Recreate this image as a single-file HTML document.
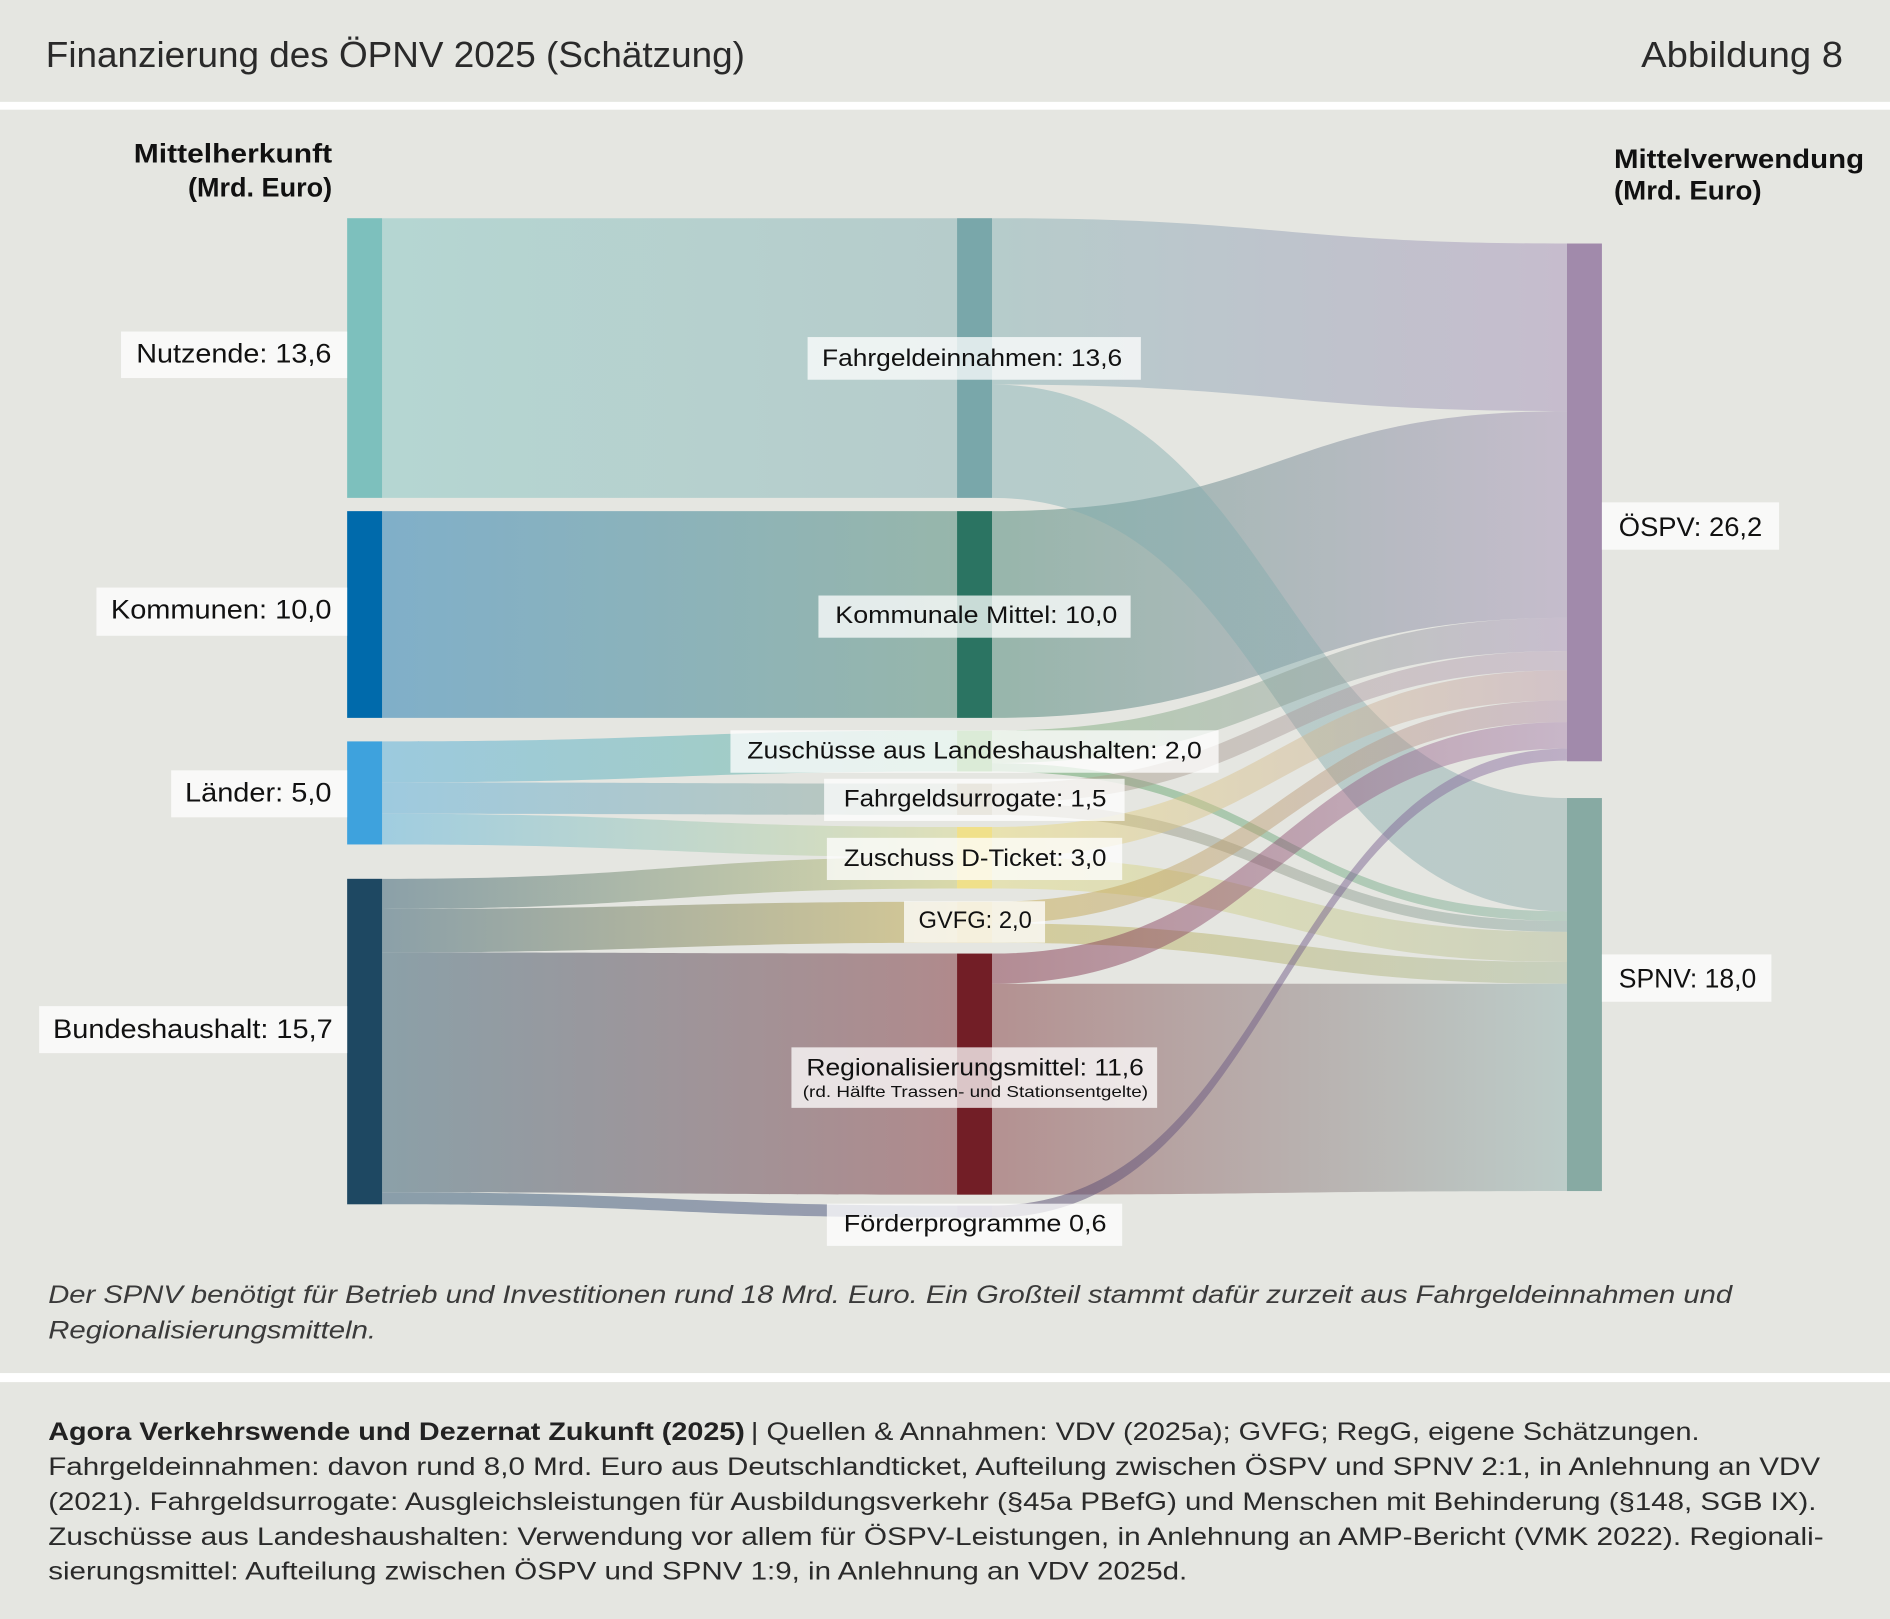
<!DOCTYPE html>
<html>
<head>
<meta charset="utf-8">
<style>
html,body{margin:0;padding:0;background:#e5e6e1;}
svg{display:block;}
.t{font-family:"Liberation Sans Narrow","Liberation Sans",sans-serif;}
.l{font-family:"Liberation Sans",sans-serif;fill:#111;}
</style>
</head>
<body>
<svg xmlns="http://www.w3.org/2000/svg" width="1890" height="1619" viewBox="0 0 1568 1343" preserveAspectRatio="none">
<defs>
  <!-- left flows (opaque) -->
  <linearGradient id="g1" gradientUnits="userSpaceOnUse" x1="317" y1="0" x2="794" y2="0"><stop offset="0" stop-color="#b5d6d2"/><stop offset="1" stop-color="#b6cccb"/></linearGradient>
  <linearGradient id="g2" gradientUnits="userSpaceOnUse" x1="317" y1="0" x2="794" y2="0"><stop offset="0" stop-color="#80afc9"/><stop offset="1" stop-color="#97b6ab"/></linearGradient>
  <linearGradient id="g3" gradientUnits="userSpaceOnUse" x1="317" y1="0" x2="794" y2="0"><stop offset="0" stop-color="#9ccade"/><stop offset="1" stop-color="#a5cdb9"/></linearGradient>
  <linearGradient id="g4" gradientUnits="userSpaceOnUse" x1="317" y1="0" x2="794" y2="0"><stop offset="0" stop-color="#9ecadf"/><stop offset="1" stop-color="#bec6b9"/></linearGradient>
  <linearGradient id="g5" gradientUnits="userSpaceOnUse" x1="317" y1="0" x2="794" y2="0"><stop offset="0" stop-color="#a0cde0"/><stop offset="1" stop-color="#dfe0b9"/></linearGradient>
  <linearGradient id="g6" gradientUnits="userSpaceOnUse" x1="317" y1="0" x2="794" y2="0"><stop offset="0" stop-color="#8ba0a8"/><stop offset="1" stop-color="#d9d9aa"/></linearGradient>
  <linearGradient id="g7" gradientUnits="userSpaceOnUse" x1="317" y1="0" x2="794" y2="0"><stop offset="0" stop-color="#8ba0a8"/><stop offset="1" stop-color="#d6c995"/></linearGradient>
  <linearGradient id="g8" gradientUnits="userSpaceOnUse" x1="317" y1="0" x2="794" y2="0"><stop offset="0" stop-color="#8ba0a8"/><stop offset="1" stop-color="#b08a8c"/></linearGradient>
  <linearGradient id="g9" gradientUnits="userSpaceOnUse" x1="317" y1="0" x2="794" y2="0"><stop offset="0" stop-color="#8a9eaa"/><stop offset="1" stop-color="#9a9cb0"/></linearGradient>
  <!-- right flows (alpha) -->
  <linearGradient id="ra" gradientUnits="userSpaceOnUse" x1="823" y1="0" x2="1300" y2="0"><stop offset="0" stop-color="#7cacb0"/><stop offset="1" stop-color="#a089b5"/></linearGradient>
  <linearGradient id="rb" gradientUnits="userSpaceOnUse" x1="823" y1="0" x2="1300" y2="0"><stop offset="0" stop-color="#7cacb0"/><stop offset="1" stop-color="#8aaaaa"/></linearGradient>
  <linearGradient id="rc" gradientUnits="userSpaceOnUse" x1="823" y1="0" x2="1300" y2="0"><stop offset="0" stop-color="#387b69"/><stop offset="1" stop-color="#9e89b2"/></linearGradient>
  <linearGradient id="rd" gradientUnits="userSpaceOnUse" x1="823" y1="0" x2="1300" y2="0"><stop offset="0" stop-color="#6fae6b"/><stop offset="1" stop-color="#a48db6"/></linearGradient>
  <linearGradient id="re" gradientUnits="userSpaceOnUse" x1="823" y1="0" x2="1300" y2="0"><stop offset="0" stop-color="#4c9a51"/><stop offset="1" stop-color="#83af9e"/></linearGradient>
  <linearGradient id="rf" gradientUnits="userSpaceOnUse" x1="823" y1="0" x2="1300" y2="0"><stop offset="0" stop-color="#a49b7c"/><stop offset="1" stop-color="#b098b5"/></linearGradient>
  <linearGradient id="rg" gradientUnits="userSpaceOnUse" x1="823" y1="0" x2="1300" y2="0"><stop offset="0" stop-color="#998d72"/><stop offset="1" stop-color="#83a39e"/></linearGradient>
  <linearGradient id="rh" gradientUnits="userSpaceOnUse" x1="823" y1="0" x2="1300" y2="0"><stop offset="0" stop-color="#ecdd72"/><stop offset="1" stop-color="#bb98a9"/></linearGradient>
  <linearGradient id="ri" gradientUnits="userSpaceOnUse" x1="823" y1="0" x2="1300" y2="0"><stop offset="0" stop-color="#e3db7d"/><stop offset="1" stop-color="#b0ba93"/></linearGradient>
  <linearGradient id="rj" gradientUnits="userSpaceOnUse" x1="823" y1="0" x2="1300" y2="0"><stop offset="0" stop-color="#c4a63a"/><stop offset="1" stop-color="#b08daa"/></linearGradient>
  <linearGradient id="rk" gradientUnits="userSpaceOnUse" x1="823" y1="0" x2="1300" y2="0"><stop offset="0" stop-color="#bfac45"/><stop offset="1" stop-color="#a4b593"/></linearGradient>
  <linearGradient id="rl" gradientUnits="userSpaceOnUse" x1="823" y1="0" x2="1300" y2="0"><stop offset="0" stop-color="#761e36"/><stop offset="1" stop-color="#a47caa"/></linearGradient>
  <linearGradient id="rm" gradientUnits="userSpaceOnUse" x1="823" y1="0" x2="1300" y2="0"><stop offset="0" stop-color="#78292f"/><stop offset="1" stop-color="#8aacaa"/></linearGradient>
  <linearGradient id="rn" gradientUnits="userSpaceOnUse" x1="823" y1="0" x2="1300" y2="0"><stop offset="0" stop-color="#4e4468"/><stop offset="1" stop-color="#9678aa"/></linearGradient>
</defs>

<!-- backgrounds -->
<rect x="0" y="0" width="1568" height="1343" fill="#e5e6e1"/>
<rect x="0" y="84.5" width="1568" height="6.5" fill="#ffffff"/>
<rect x="0" y="1139" width="1568" height="7.5" fill="#ffffff"/>

<!-- header -->
<text class="t" x="38" y="55.5" font-size="30" fill="#2a2a2a" textLength="580" lengthAdjust="spacingAndGlyphs">Finanzierung des ÖPNV 2025 (Schätzung)</text>
<text class="t" x="1361.5" y="55.5" font-size="30" fill="#2a2a2a" textLength="167.5" lengthAdjust="spacingAndGlyphs">Abbildung 8</text>

<text class="t" x="111" y="135" font-size="22" font-weight="bold" fill="#111" textLength="164.5" lengthAdjust="spacingAndGlyphs">Mittelherkunft</text>
<text class="t" x="156" y="163" font-size="22" font-weight="bold" fill="#111" textLength="119.5" lengthAdjust="spacingAndGlyphs">(Mrd. Euro)</text>
<text class="t" x="1339" y="139.5" font-size="22" font-weight="bold" fill="#111" textLength="207.5" lengthAdjust="spacingAndGlyphs">Mittelverwendung</text>
<text class="t" x="1339" y="165.4" font-size="22" font-weight="bold" fill="#111" textLength="122.5" lengthAdjust="spacingAndGlyphs">(Mrd. Euro)</text>

<!-- left flows -->
<path d="M317 181 L794 181 L794 413 L317 413 Z" fill="url(#g1)"/>
<path d="M317 424 L794 424 L794 595.5 L317 595.5 Z" fill="url(#g2)"/>
<path d="M317 615 C555.5 615 555.5 606 794 606 L794 640 C555.5 640 555.5 649 317 649 Z" fill="url(#g3)"/>
<path d="M317 649 C555.5 649 555.5 650 794 650 L794 676 C555.5 676 555.5 675 317 675 Z" fill="url(#g4)"/>
<path d="M317 675 C555.5 675 555.5 686 794 686 L794 711 C555.5 711 555.5 700.5 317 700.5 Z" fill="url(#g5)"/>
<path d="M317 729 C555.5 729 555.5 711 794 711 L794 737 C555.5 737 555.5 754 317 754 Z" fill="url(#g6)"/>
<path d="M317 754 C555.5 754 555.5 748 794 748 L794 782 C555.5 782 555.5 790 317 790 Z" fill="url(#g7)"/>
<path d="M317 790 C555.5 790 555.5 791 794 791 L794 991 C555.5 991 555.5 989 317 989 Z" fill="url(#g8)"/>
<path d="M317 989 C555.5 989 555.5 1000 794 1000 L794 1010 C555.5 1010 555.5 999 317 999 Z" fill="url(#g9)"/>

<!-- right flows -->
<g opacity="0.45">
<path d="M823 181 C1061.5 181 1061.5 202 1300 202 L1300 341 C1061.5 341 1061.5 319 823 319 Z" fill="url(#ra)"/>
</g>
<g opacity="0.45">
<path d="M823 424 C1061.5 424 1061.5 341 1300 341 L1300 512.5 C1061.5 512.5 1061.5 595.5 823 595.5 Z" fill="url(#rc)"/>
</g>
<g opacity="0.45">
<path d="M823 319 C1061.5 319 1061.5 662 1300 662 L1300 756 C1061.5 756 1061.5 413 823 413 Z" fill="url(#rb)"/>
</g>
<g opacity="0.45">
<path d="M823 606 C1061.5 606 1061.5 512.5 1300 512.5 L1300 540 C1061.5 540 1061.5 633 823 633 Z" fill="url(#rd)"/>
</g>
<g opacity="0.45">
<path d="M823 633 C1061.5 633 1061.5 756 1300 756 L1300 764 C1061.5 764 1061.5 640 823 640 Z" fill="url(#re)"/>
</g>
<g opacity="0.45">
<path d="M823 650 C1061.5 650 1061.5 540 1300 540 L1300 556 C1061.5 556 1061.5 666 823 666 Z" fill="url(#rf)"/>
</g>
<g opacity="0.45">
<path d="M823 666 C1061.5 666 1061.5 764 1300 764 L1300 773 C1061.5 773 1061.5 676 823 676 Z" fill="url(#rg)"/>
</g>
<g opacity="0.45">
<path d="M823 686 C1061.5 686 1061.5 556 1300 556 L1300 581 C1061.5 581 1061.5 711 823 711 Z" fill="url(#rh)"/>
</g>
<g opacity="0.45">
<path d="M823 711 C1061.5 711 1061.5 773 1300 773 L1300 798 C1061.5 798 1061.5 737 823 737 Z" fill="url(#ri)"/>
</g>
<g opacity="0.45">
<path d="M823 748 C1061.5 748 1061.5 581 1300 581 L1300 599 C1061.5 599 1061.5 766 823 766 Z" fill="url(#rj)"/>
</g>
<g opacity="0.45">
<path d="M823 766 C1061.5 766 1061.5 798 1300 798 L1300 816 C1061.5 816 1061.5 782 823 782 Z" fill="url(#rk)"/>
</g>
<g opacity="0.45">
<path d="M823 791 C1061.5 791 1061.5 599 1300 599 L1300 621 C1061.5 621 1061.5 816 823 816 Z" fill="url(#rl)"/>
</g>
<g opacity="0.45">
<path d="M823 816 C1061.5 816 1061.5 816 1300 816 L1300 988 C1061.5 988 1061.5 991 823 991 Z" fill="url(#rm)"/>
</g>
<g opacity="0.5">
<path d="M823 1000 C1061.5 1000 1061.5 621 1300 621 L1300 631 C1061.5 631 1061.5 1010 823 1010 Z" fill="url(#rn)"/>
</g>

<!-- nodes -->
<rect x="288" y="181" width="29" height="232" fill="#7dc0bd"/>
<rect x="288" y="424" width="29" height="171.5" fill="#006aab"/>
<rect x="288" y="615" width="29" height="85.5" fill="#3ea2dd"/>
<rect x="288" y="729" width="29" height="270" fill="#1e4862"/>

<rect x="794" y="181" width="29" height="232" fill="#79a7aa"/>
<rect x="794" y="424" width="29" height="171.5" fill="#2b7462"/>
<rect x="794" y="606" width="29" height="34" fill="#6fb062"/>
<rect x="794" y="650" width="29" height="26" fill="#a89f80"/>
<rect x="794" y="686" width="29" height="51" fill="#f0e08a"/>
<rect x="794" y="748" width="29" height="34" fill="#d8c47a"/>
<rect x="794" y="791" width="29" height="200" fill="#721e26"/>
<rect x="794" y="1000" width="29" height="10" fill="#958aa8"/>

<rect x="1300" y="202" width="29" height="429.5" fill="#a18aab"/>
<rect x="1300" y="662" width="29" height="326" fill="#87aaa3"/>

<!-- label boxes -->
<g fill="#ffffff" fill-opacity="0.75">
  <rect x="100.4" y="275" width="187.6" height="38.6"/>
  <rect x="80" y="487.4" width="208" height="40"/>
  <rect x="142" y="639" width="146" height="39"/>
  <rect x="32.5" y="834.6" width="255.5" height="39"/>

  <rect x="670" y="279.6" width="276.5" height="35.4"/>
  <rect x="679" y="494" width="259" height="35"/>
  <rect x="606" y="605.8" width="405" height="35.2"/>
  <rect x="683.7" y="646" width="249.3" height="35"/>
  <rect x="686" y="695" width="245" height="35"/>
  <rect x="750" y="747.6" width="117" height="34.4"/>
  <rect x="656.6" y="868.8" width="303.4" height="50.2"/>
  <rect x="686" y="998.5" width="245" height="35"/>

  <rect x="1329" y="416.7" width="147" height="39.3"/>
  <rect x="1329" y="791.7" width="140.6" height="39.3"/>
</g>

<!-- node labels -->
<text class="l" x="113" y="300.7" font-size="22.5" textLength="162" lengthAdjust="spacingAndGlyphs">Nutzende: 13,6</text>
<text class="l" x="92" y="513" font-size="22.5" textLength="183" lengthAdjust="spacingAndGlyphs">Kommunen: 10,0</text>
<text class="l" x="153.5" y="665" font-size="22.5" textLength="121.5" lengthAdjust="spacingAndGlyphs">Länder: 5,0</text>
<text class="l" x="44" y="861" font-size="22.5" textLength="232" lengthAdjust="spacingAndGlyphs">Bundeshaushalt: 15,7</text>

<text class="l" x="682" y="303.5" font-size="20" textLength="249" lengthAdjust="spacingAndGlyphs">Fahrgeldeinnahmen: 13,6</text>
<text class="l" x="693" y="517" font-size="20" textLength="234" lengthAdjust="spacingAndGlyphs">Kommunale Mittel: 10,0</text>
<text class="l" x="620" y="629" font-size="20" textLength="377" lengthAdjust="spacingAndGlyphs">Zuschüsse aus Landeshaushalten: 2,0</text>
<text class="l" x="700" y="669" font-size="20" textLength="218" lengthAdjust="spacingAndGlyphs">Fahrgeldsurrogate: 1,5</text>
<text class="l" x="700" y="718.5" font-size="20" textLength="218" lengthAdjust="spacingAndGlyphs">Zuschuss D-Ticket: 3,0</text>
<text class="l" x="762" y="770" font-size="20" textLength="94" lengthAdjust="spacingAndGlyphs">GVFG: 2,0</text>
<text class="l" x="669" y="892" font-size="20" textLength="280" lengthAdjust="spacingAndGlyphs">Regionalisierungsmittel: 11,6</text>
<text class="l" x="666" y="910" font-size="13" textLength="286.5" lengthAdjust="spacingAndGlyphs">(rd. Hälfte Trassen- und Stationsentgelte)</text>
<text class="l" x="700" y="1021.5" font-size="20" textLength="218" lengthAdjust="spacingAndGlyphs">Förderprogramme 0,6</text>

<text class="l" x="1343" y="444.7" font-size="22.5" textLength="119" lengthAdjust="spacingAndGlyphs">ÖSPV: 26,2</text>
<text class="l" x="1343" y="819" font-size="22.5" textLength="114" lengthAdjust="spacingAndGlyphs">SPNV: 18,0</text>

<!-- caption -->
<text class="t" x="40" y="1081" font-size="21" font-style="italic" fill="#3a3a3a" textLength="1397" lengthAdjust="spacingAndGlyphs">Der SPNV benötigt für Betrieb und Investitionen rund 18 Mrd. Euro. Ein Großteil stammt dafür zurzeit aus Fahrgeldeinnahmen und</text>
<text class="t" x="40" y="1110.5" font-size="21" font-style="italic" fill="#3a3a3a" textLength="272" lengthAdjust="spacingAndGlyphs">Regionalisierungsmitteln.</text>

<!-- footer -->
<text class="t" x="40" y="1194.6" font-size="20.5" font-weight="bold" fill="#222" textLength="578" lengthAdjust="spacingAndGlyphs">Agora Verkehrswende und Dezernat Zukunft (2025)</text>
<text class="t" x="623" y="1194.6" font-size="20.5" fill="#2a2a2a" textLength="787" lengthAdjust="spacingAndGlyphs">| Quellen &amp; Annahmen: VDV (2025a); GVFG; RegG, eigene Schätzungen.</text>
<text class="t" x="40" y="1223.7" font-size="20.5" fill="#2a2a2a" textLength="1470" lengthAdjust="spacingAndGlyphs">Fahrgeldeinnahmen: davon rund 8,0 Mrd. Euro aus Deutschlandticket, Aufteilung zwischen ÖSPV und SPNV 2:1, in Anlehnung an VDV</text>
<text class="t" x="40" y="1252.7" font-size="20.5" fill="#2a2a2a" textLength="1467" lengthAdjust="spacingAndGlyphs">(2021). Fahrgeldsurrogate: Ausgleichsleistungen für Ausbildungsverkehr (§45a PBefG) und Menschen mit Behinderung (§148, SGB IX).</text>
<text class="t" x="40" y="1281.7" font-size="20.5" fill="#2a2a2a" textLength="1473" lengthAdjust="spacingAndGlyphs">Zuschüsse aus Landeshaushalten: Verwendung vor allem für ÖSPV-Leistungen, in Anlehnung an AMP-Bericht (VMK 2022). Regionali-</text>
<text class="t" x="40" y="1310.2" font-size="20.5" fill="#2a2a2a" textLength="945" lengthAdjust="spacingAndGlyphs">sierungsmittel: Aufteilung zwischen ÖSPV und SPNV 1:9, in Anlehnung an VDV 2025d.</text>
</svg>
</body>
</html>
